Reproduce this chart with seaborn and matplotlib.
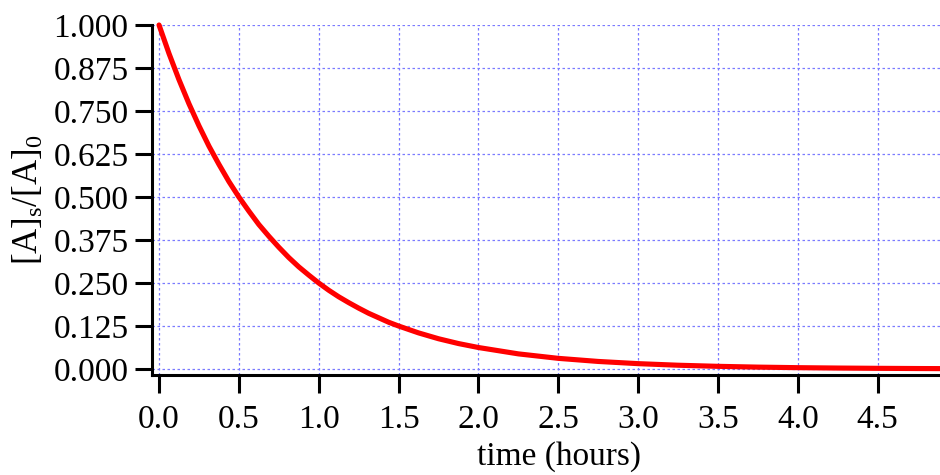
import numpy as np
import pandas as pd
import matplotlib
matplotlib.use("Agg")
import matplotlib.pyplot as plt
import seaborn as sns

# Data
time_hours = [0.0, 0.0625, 0.125, 0.1875, 0.25, 0.3125, 0.375, 0.4375, 0.5, 0.5625,
              0.625, 0.6875, 0.75, 0.8125, 0.875, 0.9375, 1.0, 1.0625, 1.125, 1.1875,
              1.25, 1.3125, 1.375, 1.4375, 1.5, 1.625, 1.75, 1.875, 2.0, 2.25, 2.5,
              2.75, 3.0, 3.25, 3.5, 3.75, 4.0, 4.25, 4.5, 4.75, 5.0]
ratio = [1.0, 0.917, 0.841, 0.771, 0.707, 0.648, 0.595, 0.545, 0.5, 0.459,
         0.420, 0.386, 0.354, 0.324, 0.297, 0.273, 0.25, 0.229, 0.210, 0.193,
         0.177, 0.162, 0.149, 0.136, 0.125, 0.105, 0.088, 0.074, 0.0625, 0.044, 0.031,
         0.022, 0.0156, 0.011, 0.0078, 0.0055, 0.0039, 0.0028, 0.002, 0.0014, 0.001]
x_ticks = [0.0, 0.5, 1.0, 1.5, 2.0, 2.5, 3.0, 3.5, 4.0, 4.5]
x_tick_labels = ["0.0", "0.5", "1.0", "1.5", "2.0", "2.5", "3.0", "3.5", "4.0", "4.5"]
y_ticks = [0.0, 0.125, 0.25, 0.375, 0.5, 0.625, 0.75, 0.875, 1.0]
y_tick_labels = ["0.000", "0.125", "0.250", "0.375", "0.500", "0.625", "0.750", "0.875", "1.000"]

sns.set_style("white")
plt.rcParams["font.family"] = ["Liberation Serif", "DejaVu Serif"]
plt.rcParams["mathtext.fontset"] = "custom"
plt.rcParams["mathtext.rm"] = "Liberation Serif"
plt.rcParams["mathtext.it"] = "Liberation Serif:italic"
plt.rcParams["text.color"] = "black"
plt.rcParams["axes.labelcolor"] = "black"

df = pd.DataFrame({"time": time_hours, "ratio": ratio})

fig = plt.figure(figsize=(9.4, 4.75), dpi=100)
ax = fig.add_axes([152 / 940, 1 - 375 / 475, 1 - 152 / 940, (375 - 25) / 475])

sns.lineplot(data=df, x="time", y="ratio", ax=ax, color="#ff0000", linewidth=3.7,
             clip_on=False, zorder=5)

ax.set_xlim(-0.044, 4.89)
ax.set_ylim(-0.0174, 1.0)

ax.set_xticks(x_ticks)
ax.set_xticklabels(x_tick_labels)
ax.set_yticks(y_ticks)
ax.set_yticklabels(y_tick_labels)

ax.grid(True, color="#7a7aff", linestyle=(0, (2, 2)), linewidth=0.9)
ax.set_axisbelow(True)

for side in ["top", "right"]:
    ax.spines[side].set_visible(False)
for side in ["left", "bottom"]:
    ax.spines[side].set_color("black")
    ax.spines[side].set_linewidth(2.2)

ax.tick_params(axis="x", direction="out", length=13, width=2.2, pad=8,
               labelsize=24, colors="black", bottom=True)
ax.tick_params(axis="y", direction="out", length=12, width=2.2, pad=5,
               labelsize=24, colors="black", left=True)

ax.set_xlabel("time (hours)", fontsize=24, color="black")
ax.set_ylabel(r"$\mathrm{[A]_s/[A]_0}$", fontsize=25, color="black")
ax.xaxis.set_label_coords(0.517, -0.19)
ax.yaxis.set_label_coords(-0.135, 0.5)

fig.savefig("out.png", dpi=100)
